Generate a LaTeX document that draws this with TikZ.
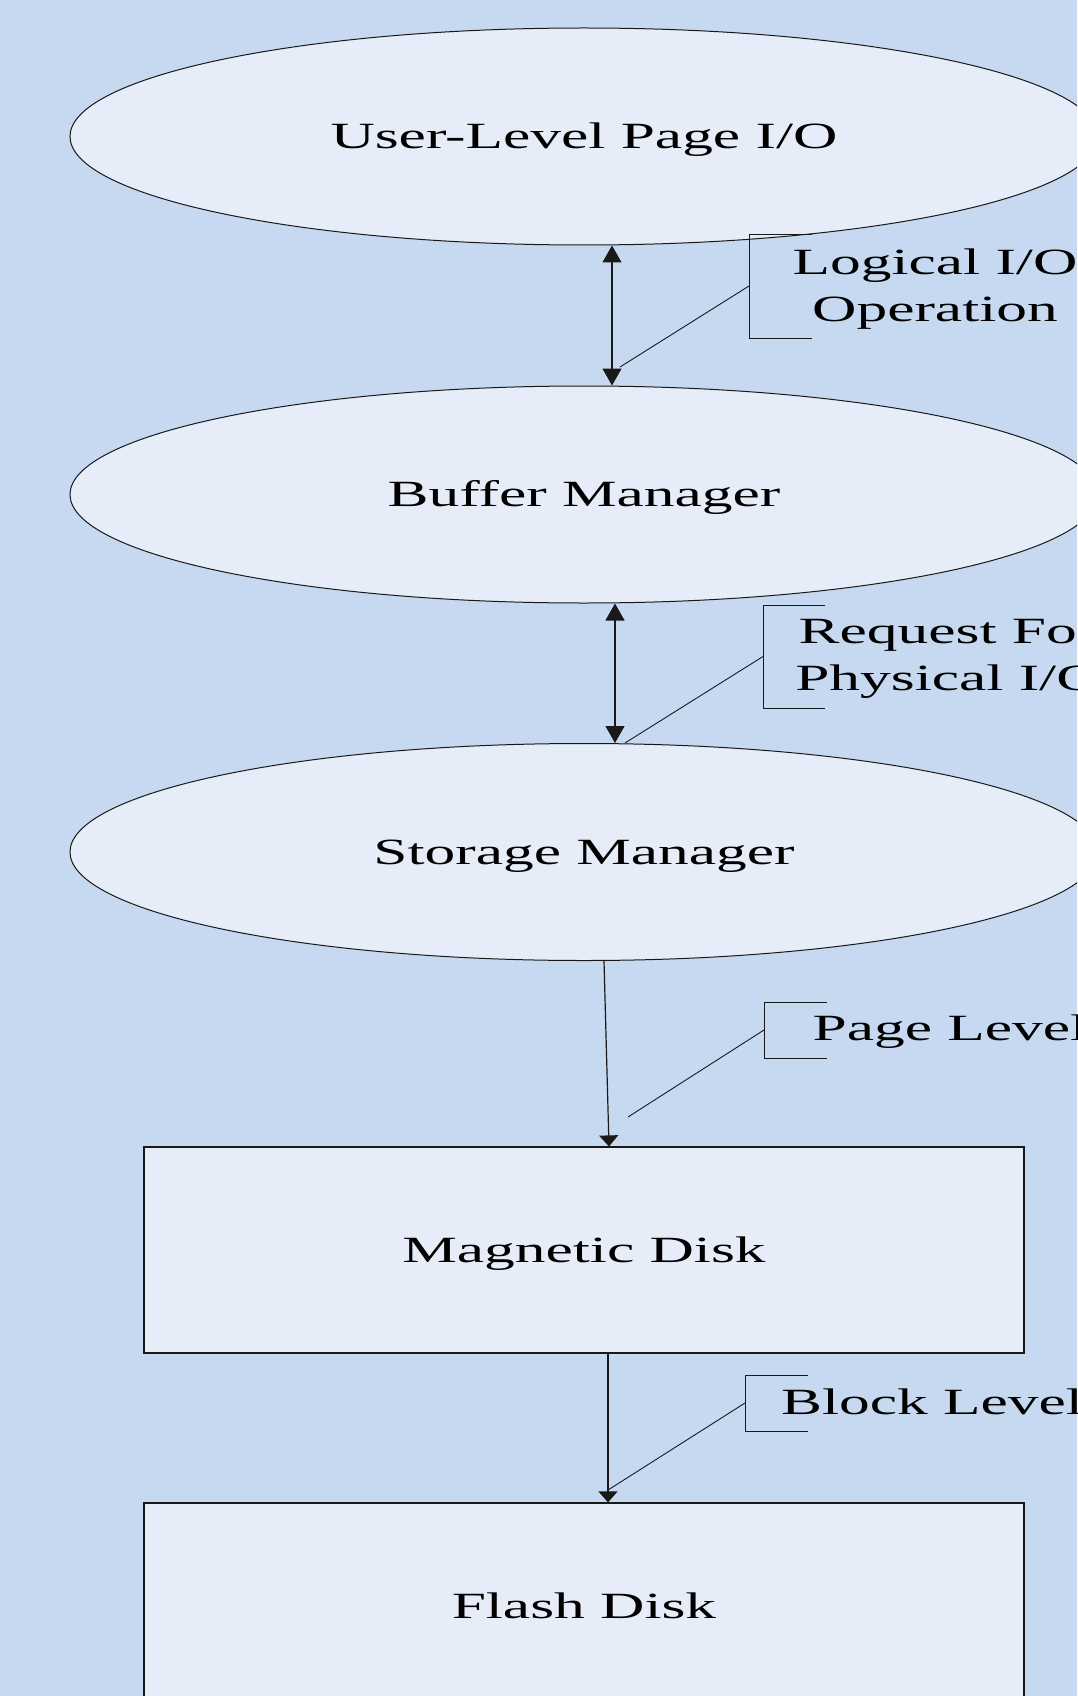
\documentclass[tikz,border=0pt]{standalone}
\usepackage{fontspec}
\setmainfont{Liberation Serif}[FakeStretch=1.66]
\usetikzlibrary{shapes.geometric,arrows.meta,calc}
\definecolor{pagebg}{RGB}{198,217,240}
\definecolor{shapefill}{RGB}{230,237,248}
\definecolor{ink}{RGB}{25,25,25}

\tikzset{
  bigtip/.tip={Triangle[length=8.5pt,width=9.5pt]},
  smalltip/.tip={Triangle[length=5.5pt,width=9.5pt]},
}

\begin{document}
\begin{tikzpicture}[x=0.5pt,y=-0.5pt,
  label font/.style={font=\fontsize{18.5}{23.5}\selectfont},
  cap centred/.style={text height=12.25pt,text depth=0pt},
  layer/.style={ellipse,draw=ink,line width=0.5pt,fill=shapefill,
    minimum width=514pt,minimum height=108.5pt,inner sep=0pt,label font,cap centred},
  device/.style={rectangle,draw=ink,line width=0.6pt,fill=shapefill,
    minimum width=440pt,minimum height=103pt,inner sep=0pt,label font,cap centred},
  callout/.style={label font,align=center,inner sep=0pt},
  flow/.style={draw=ink,line width=0.6pt},
  callline/.style={draw=ink,line width=0.45pt},
]
\useasboundingbox (0,0) rectangle (1077,1696);
\clip (0,0) rectangle (1077,1696);
\fill[pagebg] (0,0) rectangle (1077,1696);

% software layers and devices
\node[layer]  (user)    at (584,136.5) {User-Level Page I/O};
\node[layer]  (buffer)  at (584,494.5) {Buffer Manager};
\node[layer]  (storage) at (584,852)   {Storage Manager};
\node[device] (disk)    at (584,1250)  {Magnetic Disk};
\node[device] (flash)   at (584,1606)  {Flash Disk};

% request flow
\draw[flow,bigtip-bigtip] ($(user.south)+(28,0)$) -- ($(buffer.north)+(28,0)$);
\draw[flow,bigtip-bigtip] ($(buffer.south)+(31,0)$) -- ($(storage.north)+(31,0)$);
\draw[flow,-smalltip] ($(storage.south)+(20,0)$) -- ($(disk.north)+(25,0)$);
\draw[flow,-smalltip] ($(disk.south)+(24,0)$) -- ($(flash.north)+(24,0)$);

% callout texts
\node[callout] (logical)  at (935,289)   {Logical I/O\\Operation};
\node[callout] (physical) at (948,658.4) {Request For\\Physical I/O};
\node[callout,cap centred] (pagelvl)  at (950,1028) {Page Level};
\node[callout,cap centred] (blocklvl) at (932,1402) {Block Level};

% callout brackets and leaders
\coordinate (b1) at (749,286);    \coordinate (t1) at (620,367);
\coordinate (b2) at (763,656.5);  \coordinate (t2) at (625,743);
\coordinate (b3) at (764,1030);   \coordinate (t3) at (628,1117);
\coordinate (b4) at (745,1403);   \coordinate (t4) at (608,1490);

\draw[callline] ($(b1)+(63,-52)$) -| ($(b1)+(0,52)$) -- ++(63,0);
\draw[callline] (b1) -- (t1);
\draw[callline] ($(b2)+(62,-51.5)$) -| ($(b2)+(0,51.5)$) -- ++(62,0);
\draw[callline] (b2) -- (t2);
\draw[callline] ($(b3)+(63,-28)$) -| ($(b3)+(0,28)$) -- ++(63,0);
\draw[callline] (b3) -- (t3);
\draw[callline] ($(b4)+(63,-28)$) -| ($(b4)+(0,28)$) -- ++(63,0);
\draw[callline] (b4) -- (t4);
\end{tikzpicture}
\end{document}
